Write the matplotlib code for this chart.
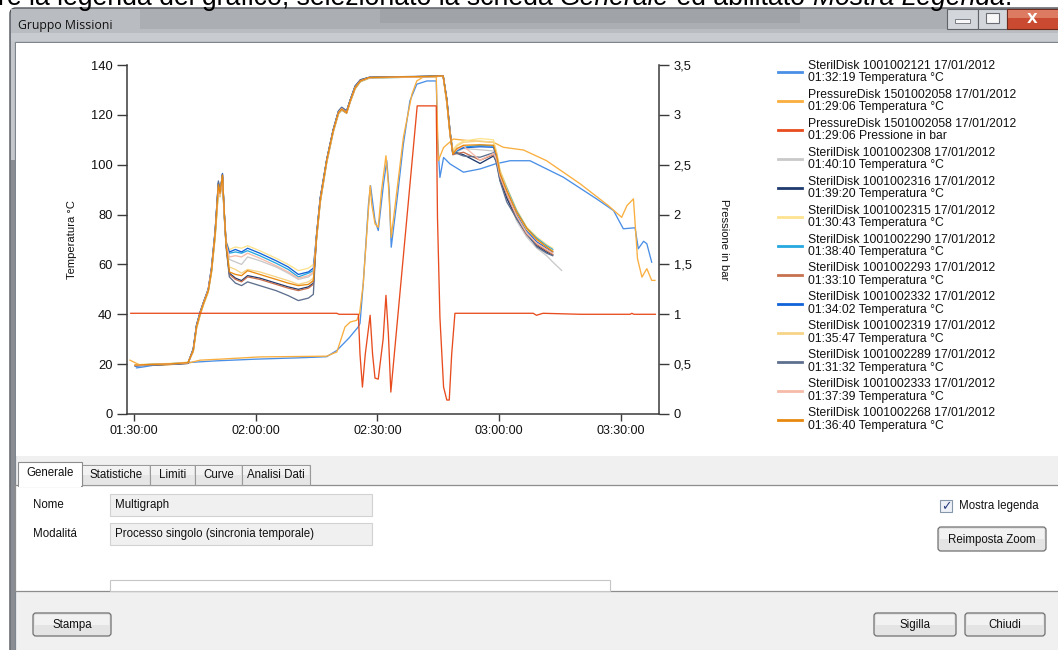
import numpy as np
import pandas as pd
import matplotlib
matplotlib.use("Agg")
import matplotlib.pyplot as plt
import matplotlib.dates as mdates
from matplotlib.patches import Rectangle, FancyBboxPatch
from matplotlib.transforms import Affine2D
from matplotlib.ticker import FuncFormatter

# ------------------------------------------------------------------ data
START = pd.Timestamp("2012-01-17 01:30:00")
X_MIN, X_MAX = -1.73, 129.4          # minutes from 01:30:00

# SterilDisk 1001002121 (temperature)
t_2121 = [0.6, 2, 5, 10, 15, 20, 30, 40, 45, 47.5, 50, 53, 55.2, 55.7, 56.5, 57.8, 58.3, 59.4,
          60.2, 61.5, 62.3, 62.9, 63.4, 64.8, 66.4, 68.0, 69.7, 72.2, 74.5, 74.8, 75.4, 76.3,
          77.9, 81.2, 85.3, 89.0, 92.7, 97.6, 105.8, 114.0, 118.2, 120.6, 123.5, 124.3, 125.6,
          126.4, 127.6]
v_2121 = [18.5, 18.8, 19.6, 20.2, 20.8, 21.3, 22.0, 22.5, 22.8, 23.0, 25.5, 30.5, 34.8, 36.3,
          52.3, 84.3, 91.6, 77.6, 73.6, 92.3, 101.6, 89.6, 66.9, 85.6, 108.3, 125.6, 132.3,
          133.6, 133.6, 110.9, 94.9, 102.9, 100.3, 97.0, 98.3, 100.3, 101.6, 101.6, 95.0, 86.3,
          81.6, 74.3, 74.7, 66.3, 69.3, 68.3, 60.9]

# PressureDisk 1501002058 (temperature)
t_pd_temp = [-1.0, 1.5, 6.4, 13.0, 16.3, 21.2, 31.0, 47.5, 50.0, 52.0, 53.3, 54.9, 55.6, 56.5,
             58.2, 58.6, 59.4, 60.2, 61.0, 62.1, 62.7, 63.4, 64.8, 66.4, 68.5, 69.7, 71.3, 74.5,
             75.0, 76.3, 78.7, 82.8, 88.6, 91.0, 96.0, 101.7, 110.0, 116.9, 120.2, 121.5, 123.1,
             124.1, 125.2, 126.4, 127.6, 128.4]
v_pd_temp = [21.6, 19.6, 19.5, 20.3, 21.6, 22.0, 22.9, 23.2, 24.9, 34.9, 36.9, 37.6, 40.3, 52.3,
             91.6, 84.0, 76.3, 74.9, 89.6, 103.6, 92.0, 70.9, 89.6, 111.0, 128.3, 133.6, 135.2,
             135.2, 101.6, 106.9, 110.3, 109.6, 109.0, 107.0, 105.9, 101.6, 92.3, 83.6, 78.9,
             83.6, 86.3, 62.3, 54.9, 58.3, 53.6, 53.6]

# PressureDisk 1501002058 (pressure, bar)
t_pd_bar = [-0.8, 20, 50.0, 50.5, 55.3, 55.7, 56.3, 57.0, 58.2, 58.8, 59.4, 60.2, 61.4, 62.1,
            62.7, 63.3, 69.8, 74.5, 74.8, 75.4, 76.3, 77.1, 77.7, 78.3, 79.1, 98.4, 99.2, 100.8,
            110, 122.3, 122.7, 123.2, 128.5]
v_pd_bar = [1.01, 1.01, 1.01, 1.0, 1.0, 0.6, 0.27, 0.6, 0.99, 0.6, 0.36, 0.35, 0.75, 1.19, 0.8,
            0.22, 3.09, 3.09, 1.97, 0.97, 0.27, 0.14, 0.14, 0.6, 1.01, 1.01, 0.99, 1.01, 1.0,
            1.0, 1.01, 1.0, 1.0]

# common time base of the ten SterilDisk probes that follow the load
t_group = [0.3, 4, 9, 13.3, 14.6, 15.4, 16.3, 17.1, 18.3, 19.1, 20.0, 20.8, 21.2, 21.8, 22.2,
           22.7, 23.5, 25, 26.5, 28, 31, 35, 38, 40.5, 43, 44.2, 45, 45.9, 47.5, 49.1, 50.4,
           51.2, 52.4, 53.3, 54.5, 55.8, 58, 65, 72, 76.2, 77.1, 77.9, 78.6, 79.6, 81.2, 85.3,
           88.6, 89.4, 90.2, 91.9, 94.3, 96.8, 99.3, 101.7, 103.2, 105.4]
nan = np.nan
v_2308 = [19.4, 19.8, 20.0, 20.4, 25.8, 35.2, 40.5, 44.5, 49.5, 57.8, 72.0, 90.5, 88.5, 95.0, 80.0,
          67.0, 62.0, 61.0, 60.0, 63.0, 61.5, 59.0, 56.5, 54.0, 55.0, 56.5, 71.5, 86.0, 101.8,
          113.8, 121.2, 122.6, 121.2, 125.8, 131.2, 133.8, 135.0, 135.2, 135.4, 135.6, 125.8,
          112.8, 104.2, 105.2, 106.5, 106.0, 105.5, 101.5, 94.5, 87.0, 77.5, 71.0, 66.5, 63.5,
          61.0, 57.6]
v_2316 = [19.4, 19.7, 20.0, 20.3, 25.8, 35.3, 40.6, 44.6, 49.8, 58.2, 73.0, 92.5, 88.2, 96.0, 81.8,
          68.2, 56.5, 54.5, 53.5, 55.5, 54.5, 52.5, 51.0, 50.0, 51.0, 52.5, 71.8, 86.2, 101.9,
          113.9, 121.3, 122.8, 121.3, 125.9, 131.3, 133.9, 135.0, 135.2, 135.4, 135.6, 126.2,
          113.2, 104.6, 104.8, 104.0, 100.5, 103.5, 101.0, 94.0, 86.5, 78.5, 72.0, 67.5, 65.0,
          63.8, nan]
v_2315 = [19.8, 20.0, 20.3, 20.8, 24.8, 34.0, 39.5, 43.5, 48.8, 56.5, 70.5, 88.5, 87.0, 94.0, 81.0,
          69.5, 66.0, 67.0, 66.5, 67.5, 65.5, 62.5, 60.0, 57.5, 58.5, 60.0, 70.0, 84.5, 100.5,
          112.8, 120.2, 121.8, 120.5, 125.0, 130.2, 133.2, 134.6, 135.1, 135.3, 135.5, 124.5,
          113.5, 106.0, 108.0, 109.5, 110.5, 110.0, 105.0, 98.0, 91.0, 82.0, 75.0, 71.0, 68.0,
          66.5, nan]
v_2290 = [19.6, 19.9, 20.2, 20.6, 25.2, 34.5, 40.0, 44.0, 49.2, 57.0, 71.5, 90.0, 87.5, 95.0, 80.5,
          68.0, 64.5, 65.0, 64.5, 65.5, 63.5, 60.5, 58.0, 55.0, 56.5, 57.5, 70.5, 85.0, 101.0,
          113.2, 120.6, 122.0, 120.8, 125.3, 130.6, 133.4, 134.8, 135.0, 135.3, 135.5, 125.0,
          112.0, 104.0, 105.5, 107.0, 107.8, 107.5, 104.0, 97.0, 90.5, 81.5, 74.5, 70.5, 67.5,
          66.0, nan]
v_2293 = [19.5, 19.8, 20.0, 20.4, 25.6, 35.0, 40.3, 44.3, 49.6, 57.6, 72.3, 90.8, 88.0, 95.2, 81.0,
          67.5, 56.0, 54.0, 53.0, 55.0, 54.0, 52.0, 50.5, 49.5, 50.5, 52.0, 70.6, 85.4, 101.4,
          113.4, 120.7, 122.1, 120.7, 125.4, 130.7, 133.5, 134.9, 135.1, 135.3, 135.5, 125.2,
          112.0, 104.0, 104.5, 105.0, 101.8, 104.0, 101.5, 95.0, 88.0, 79.0, 72.0, 68.0, 65.5,
          64.0, nan]
v_2332 = [19.3, 19.7, 20.0, 20.5, 26.0, 35.5, 40.8, 44.6, 50.0, 58.5, 73.5, 93.0, 88.0, 96.5, 82.0,
          69.0, 65.0, 66.0, 65.0, 66.5, 64.5, 61.5, 59.0, 56.0, 57.0, 58.5, 72.0, 86.5, 102.0,
          114.0, 121.5, 123.0, 121.5, 126.0, 131.5, 134.0, 135.0, 135.2, 135.4, 135.6, 126.0,
          113.0, 104.5, 105.8, 106.8, 107.2, 107.0, 103.0, 96.0, 89.0, 80.0, 73.5, 69.0, 66.5,
          65.0, nan]
v_2319 = [19.7, 19.9, 20.2, 20.7, 25.0, 34.2, 39.8, 43.8, 49.0, 56.8, 71.0, 89.0, 87.2, 94.5, 80.8,
          67.5, 59.0, 58.0, 56.5, 58.0, 57.0, 55.0, 53.5, 52.0, 53.0, 54.5, 70.8, 85.2, 101.2,
          113.3, 120.8, 122.2, 120.9, 125.4, 130.8, 133.5, 134.9, 135.0, 135.3, 135.5, 124.8,
          112.2, 105.0, 107.5, 109.0, 109.5, 109.0, 104.5, 97.5, 90.0, 81.0, 74.0, 70.0, 67.0,
          65.5, nan]
v_2289 = [19.3, 19.6, 19.9, 20.3, 26.2, 35.8, 41.0, 44.8, 50.2, 58.8, 73.8, 93.5, 88.8, 96.2, 82.2,
          67.0, 55.0, 52.5, 51.5, 53.0, 51.5, 49.5, 47.5, 45.5, 46.5, 48.0, 72.2, 86.8, 102.2,
          114.2, 121.6, 123.0, 121.6, 126.1, 131.6, 134.1, 135.1, 135.3, 135.5, 135.7, 126.5,
          113.5, 104.8, 104.5, 103.5, 103.0, 104.8, 100.0, 93.5, 85.0, 78.5, 72.5, 67.0, 64.5,
          63.5, nan]
v_2333 = [19.5, 19.8, 20.1, 20.5, 25.5, 35.0, 40.4, 44.4, 49.8, 58.0, 72.8, 91.5, 87.8, 95.5, 81.5,
          68.5, 63.0, 63.5, 63.0, 64.5, 62.5, 59.5, 57.0, 54.5, 55.5, 57.0, 71.0, 85.8, 101.5,
          113.5, 121.0, 122.5, 121.0, 125.6, 131.0, 133.6, 134.9, 135.1, 135.3, 135.5, 125.5,
          112.5, 104.5, 106.0, 107.5, 101.8, 104.5, 102.0, 95.5, 88.5, 79.5, 72.5, 68.5, 66.0,
          64.5, nan]
v_2268 = [19.6, 19.9, 20.1, 20.6, 25.4, 34.8, 40.2, 44.2, 49.4, 57.4, 72.2, 92.0, 88.5, 95.8, 82.5,
          68.0, 57.0, 56.0, 55.5, 57.5, 56.0, 54.0, 52.5, 51.5, 52.0, 53.5, 71.2, 85.6, 101.6,
          113.6, 120.9, 122.3, 120.9, 125.6, 130.9, 133.6, 135.0, 135.2, 135.4, 135.6, 125.6,
          112.3, 104.3, 106.5, 107.8, 108.0, 107.8, 103.5, 96.5, 89.5, 81.0, 74.5, 70.0, 67.0,
          65.2, nan]

legend_names = ["SterilDisk 1001002121", "PressureDisk 1501002058", "PressureDisk 1501002058",
                "SterilDisk 1001002308", "SterilDisk 1001002316", "SterilDisk 1001002315",
                "SterilDisk 1001002290", "SterilDisk 1001002293", "SterilDisk 1001002332",
                "SterilDisk 1001002319", "SterilDisk 1001002289", "SterilDisk 1001002333",
                "SterilDisk 1001002268"]
legend_starts = ["01:32:19", "01:29:06", "01:29:06", "01:40:10", "01:39:20", "01:30:43",
                 "01:38:40", "01:33:10", "01:34:02", "01:35:47", "01:31:32", "01:37:39",
                 "01:36:40"]
legend_quantity = ["Temperatura °C", "Temperatura °C", "Pressione in bar"] + ["Temperatura °C"] * 10
legend_date = "17/01/2012"
colors = ["#4a8fe6", "#f9ae3e", "#e84c1e", "#c9c9c9", "#1e3a6e", "#fde38f", "#27a8e0",
          "#c8714f", "#1262d8", "#f6d488", "#5e6f8e", "#f5baa8", "#e8890f"]

temp_left_ticks = [0, 20, 40, 60, 80, 100, 120, 140]
bar_right_ticks = [0, 0.5, 1, 1.5, 2, 2.5, 3, 3.5]

# ------------------------------------------------------------------ figure
W, H = 1058, 650
fig = plt.figure(figsize=(W / 100, H / 100), dpi=100)
fig.patch.set_facecolor("white")
PX = Affine2D().scale(1, -1).translate(0, H)   # pixel coords, y from top

UI = "Liberation Sans"


def rect(x, y, w, h, fc, ec="none", lw=0.8, z=-5, **kw):
    fig.add_artist(Rectangle((x, y), w, h, transform=PX, facecolor=fc, edgecolor=ec,
                             linewidth=lw, zorder=z, **kw))


def button(x, y, w, h, text, size=8.3):
    fig.add_artist(FancyBboxPatch((x, y), w, h, boxstyle="round,pad=0,rounding_size=3",
                                  transform=PX, facecolor="#e4e4e4", edgecolor="#707070",
                                  linewidth=0.9, zorder=-4))
    rect(x + 2, y + 2, w - 4, h / 2 - 2, "#f2f2f2", z=-3)
    fig.text(x + w / 2, y + h / 2 + 0.5, text, transform=PX, ha="center", va="center",
             fontsize=size, family=UI, color="#111111")


def label(x, y, s, size=8.3, family=UI, color="#111111", **kw):
    fig.text(x, y, s, transform=PX, va="center", fontsize=size, family=family,
             color=color, **kw)


# window frame / title bar (aero glass look)
fig.add_artist(FancyBboxPatch((10, 8), 1070, 660, boxstyle="round,pad=0,rounding_size=6",
                              transform=PX, facecolor="#c4c7cb", edgecolor="#4e5258",
                              linewidth=1.0, zorder=-9))
rect(11, 9, 1060, 32, "#b9bcc0", z=-8)
rect(140, 9, 820, 20, "#a3a6a9", z=-8, alpha=0.6)
rect(380, 9, 420, 14, "#8e9194", z=-8, alpha=0.35)
rect(11, 33, 1060, 8, "#cdd0d3", z=-8, alpha=0.8)
rect(11, 160, 4, 490, "#8a8e94", z=-8)
label(18, 25, "Gruppo Missioni", size=8.8, family="Open Sans")
# caption buttons
rect(947, 9, 31, 20, "#d3d6da", ec="#5f646b", lw=0.8, z=-7)
rect(955, 19, 15, 4, "#f8f8f8", ec="#6a6e74", lw=0.6, z=-6)
rect(978, 9, 29, 20, "#d3d6da", ec="#5f646b", lw=0.8, z=-7)
rect(986, 13, 13, 10, "#f8f8f8", ec="#6a6e74", lw=0.8, z=-6)
rect(1007, 9, 60, 20, "#c94a30", ec="#6e2a1c", lw=0.8, z=-7)
rect(1008, 10, 60, 8, "#dc7a62", z=-6)
fig.text(1032, 19, "X", transform=PX, ha="center", va="center", fontsize=10,
         fontweight="bold", family="DejaVu Sans", color="white")

# client area
rect(15, 42, 1050, 620, "#f0f0f0", ec="#7e858c", lw=0.9, z=-7)
rect(16, 43, 1050, 413, "white", z=-6)

# tabs + panel
rect(15, 485, 1050, 106, "white", ec="#8d8d8d", lw=0.9, z=-6)
tab_names = ["Statistiche", "Limiti", "Curve", "Analisi Dati"]
tab_x = [82, 150, 195, 242]
tab_w = [68, 45, 47, 68]
for n, x, w in zip(tab_names, tab_x, tab_w):
    rect(x, 465, w, 20, "#e6e6e6", ec="#9a9a9a", lw=0.8, z=-5)
    rect(x + 1, 466, w - 2, 9, "#f2f2f2", z=-4)
    label(x + w / 2, 475.5, n, ha="center")
rect(18, 462, 64, 24, "white", ec="#8d8d8d", lw=0.8, z=-5)
rect(18.6, 484, 62.8, 3, "white", z=-4)
label(50, 473.5, "Generale", ha="center")

label(33, 505, "Nome")
label(33, 534, "Modalitá")
rect(110, 494, 262, 22, "#f0f0f0", ec="#d2d2d2", lw=0.8)
label(115, 505, "Multigraph")
rect(110, 523, 262, 22, "#f0f0f0", ec="#d2d2d2", lw=0.8)
label(115, 534, "Processo singolo (sincronia temporale)")
rect(110, 580, 500, 11, "white", ec="#c6c6c6", lw=0.8)

rect(940, 500, 12, 12, "#eef2f8", ec="#8596ab", lw=0.8, z=-4)
fig.text(946, 506.5, "✓", transform=PX, ha="center", va="center", fontsize=9,
         family="DejaVu Sans", color="#2b3f80", fontweight="bold")
label(959, 506, "Mostra legenda")
button(938, 527, 108, 24, "Reimposta Zoom")
button(33, 613, 78, 23, "Stampa")
button(874, 613, 82, 23, "Sigilla")
button(965, 613, 80, 23, "Chiudi")

# caption line above the window (cropped by the screenshot in the reference)
renderer = fig.canvas.get_renderer()
pieces = [("re la legenda del grafico, selezionato la scheda ", "normal"),
          ("Generale", "italic"), (" ed abilitato ", "normal"),
          ("Mostra Legenda", "italic"), (".", "normal")]
probe = 0.0
for s, st in pieces:
    t = fig.text(0, 0, s, fontsize=20, family="Liberation Sans", style=st)
    probe += t.get_window_extent(renderer).width
    t.remove()
cap_size = 20 * (1014 / probe)
cx = -2.0
for s, st in pieces:
    t = fig.text(cx, 5.0, s, transform=PX, ha="left", va="baseline", fontsize=cap_size,
                 family="Liberation Sans", style=st, color="black")
    cx += t.get_window_extent(renderer).width

# ------------------------------------------------------------------ chart
ax = fig.add_axes([127 / W, 1 - 414 / H, 532 / W, 349 / H])
ax2 = ax.twinx()
ax.set_zorder(1)
ax2.set_zorder(2)
ax.patch.set_visible(False)
ax2.patch.set_visible(False)


def tt(m):
    return START + pd.to_timedelta(np.asarray(m, dtype=float), unit="min")


lw = 0.95
handles = []
handles += ax.plot(tt(t_2121), v_2121, color=colors[0], lw=lw)
handles += ax.plot(tt(t_pd_temp), v_pd_temp, color=colors[1], lw=lw)
h_bar, = ax2.plot(tt(t_pd_bar), v_pd_bar, color=colors[2], lw=lw)
handles.append(h_bar)
for vals, c in zip([v_2308, v_2316, v_2315, v_2290, v_2293, v_2332, v_2319, v_2289, v_2333,
                    v_2268], colors[3:]):
    handles += ax.plot(tt(t_group), vals, color=c, lw=lw)

ax.set_xlim(tt(X_MIN), tt(X_MAX))
ax.set_ylim(0, 140)
ax2.set_ylim(0, 3.5)
ax.set_yticks(temp_left_ticks)
ax2.set_yticks(bar_right_ticks)
ax2.yaxis.set_major_formatter(FuncFormatter(lambda v, p: f"{v:g}".replace(".", ",")))
ax.xaxis.set_major_locator(mdates.MinuteLocator(byminute=[0, 30]))
ax.xaxis.set_major_formatter(mdates.DateFormatter("%H:%M:%S"))

spc = "#3a3a3a"
for a in (ax, ax2):
    for s in a.spines.values():
        s.set_visible(False)
        s.set_color(spc)
        s.set_linewidth(1.1)
ax.spines["left"].set_visible(True)
ax.spines["bottom"].set_visible(True)
ax2.spines["right"].set_visible(True)

ax.tick_params(axis="y", direction="out", length=7.5, width=1.0, pad=3, labelsize=9.3,
               colors=spc, labelcolor="#111111")
ax.tick_params(axis="x", direction="out", length=5, width=1.0, pad=3, labelsize=9,
               colors=spc, labelcolor="#111111")
ax2.tick_params(axis="y", direction="out", length=7.5, width=1.0, pad=3, labelsize=9.3,
                colors=spc, labelcolor="#111111")
for lab in ax.get_xticklabels() + ax.get_yticklabels() + ax2.get_yticklabels():
    lab.set_family("Liberation Sans")

ax.set_ylabel("Temperatura °C", fontsize=8.1, family="Liberation Sans", color="#111111",
              va="bottom")
ax.yaxis.set_label_coords((77 - 127) / 532, 0.5)
ax2.set_ylabel("Pressione in bar", fontsize=8.1, family="Liberation Sans", color="#111111",
               rotation=270, va="bottom")
ax2.yaxis.set_label_coords((719 - 127) / 532, 0.5)

labels = [f"{n} {legend_date}\n{s} {q}" for n, s, q in zip(legend_names, legend_starts,
                                                             legend_quantity)]
leg = fig.legend(handles, labels, loc="upper left", bbox_to_anchor=(778 / W, 1 - 60 / H),
                 frameon=False, prop={"family": "Liberation Sans", "size": 8.7},
                 handlelength=2.0, handletextpad=0.5, labelspacing=0.37, borderpad=0,
                 borderaxespad=0)
for line in leg.get_lines():
    line.set_linewidth(2.0)
for t in leg.get_texts():
    t.set_linespacing(1.05)
    t.set_color("#111111")

fig.savefig("out.png", dpi=100)
